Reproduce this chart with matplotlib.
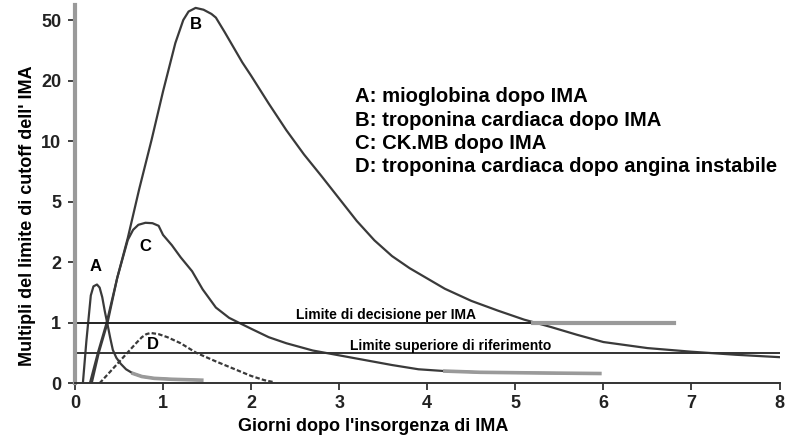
import numpy as np
import matplotlib
matplotlib.use("Agg")
import matplotlib.pyplot as plt

plt.rcParams['font.family'] = ['Liberation Sans', 'DejaVu Sans']

# y axis: equally spaced ticks 0,1,2,5,10,20,50
y_ticks = [0, 1, 2, 5, 10, 20, 50]
y_knots = [0, 1, 2, 5, 10, 20, 50, 100]
y_pos = np.arange(len(y_knots))

x_ticks = [0, 1, 2, 3, 4, 5, 6, 7, 8]

# A: mioglobina dopo IMA
a_day = [0.09, 0.11, 0.13, 0.15, 0.18, 0.21, 0.25, 0.28, 0.31, 0.34, 0.37, 0.40, 0.43, 0.47, 0.52, 0.58,
         0.66, 0.76, 0.9, 1.1, 1.44]
a_val = [0.0, 0.35, 0.7, 1.0, 1.45, 1.6, 1.63, 1.58, 1.42, 1.18, 0.97, 0.75, 0.55, 0.42, 0.32, 0.23,
         0.16, 0.11, 0.08, 0.065, 0.05]

# B: troponina cardiaca dopo IMA
b_day = [0.17, 0.26, 0.36, 0.48, 0.60, 0.73, 0.87, 1.0, 1.14, 1.23, 1.29, 1.37, 1.46, 1.55, 1.6, 1.7, 1.8,
         1.9, 2.0, 2.2, 2.4, 2.6, 2.8, 3.0, 3.2, 3.4, 3.6, 3.8, 4.0, 4.2, 4.5, 4.8, 5.1, 5.4, 5.7,
         6.0, 6.5, 7.0, 7.5, 8.0]
b_val = [0.0, 0.5, 1.0, 1.74, 3.2, 6.05, 10.2, 18.2, 38.6, 50.0, 57.0, 60.0, 58.5, 55.0, 52.0, 44.0, 36.5,
         29.0, 22.4, 16.2, 11.8, 8.9, 7.1, 5.25, 4.04, 3.08, 2.3, 1.9, 1.73, 1.56, 1.36, 1.2, 1.05, 0.93, 0.8,
         0.68, 0.58, 0.52, 0.47, 0.43]

# C: CK.MB dopo IMA
c_day = [0.19, 0.27, 0.37, 0.48, 0.60, 0.66, 0.72, 0.80, 0.88, 0.95, 1.0, 1.1, 1.2, 1.33, 1.45, 1.6, 1.75, 1.86,
         2.0, 2.2, 2.4, 2.7, 3.0, 3.3, 3.6, 3.9, 4.2, 4.6, 5.2, 5.96]
c_val = [0.0, 0.5, 1.0, 1.74, 3.1, 3.6, 3.85, 3.95, 3.93, 3.8, 3.35, 2.84, 2.24, 1.85, 1.55, 1.25, 1.08, 1.0,
         0.9, 0.76, 0.66, 0.54, 0.46, 0.38, 0.3, 0.23, 0.2, 0.18, 0.17, 0.16]

# D: troponina cardiaca dopo angina instabile
d_day = [0.28, 0.40, 0.50, 0.60, 0.70, 0.76, 0.81, 0.86, 0.95, 1.05, 1.2, 1.38, 1.6, 1.8, 2.0, 2.15, 2.25]
d_val = [0.0, 0.19, 0.35, 0.51, 0.67, 0.76, 0.81, 0.83, 0.81, 0.76, 0.66, 0.5, 0.36, 0.24, 0.12, 0.05, 0.02]

decision_limit = 1.0
reference_limit = 0.5


def fwd(v):
    return np.interp(v, y_knots, y_pos)


def inv(p):
    return np.interp(p, y_pos, y_knots)


fig = plt.figure(figsize=(7.89, 4.43), dpi=100)
ax = fig.add_axes([0.095, 0.135, 0.893, 0.854])
ax.set_yscale('function', functions=(fwd, inv))

col = '#3a3a3a'
ax.plot(a_day, a_val, color=col, lw=1.6)
ax.plot(b_day, b_val, color=col, lw=1.6)
ax.plot(c_day, c_val, color=col, lw=1.6)
ax.plot(d_day, d_val, color=col, lw=1.6, ls=(0, (2, 1)))
# faded tails as in the scanned figure
ax.plot(a_day[-5:], a_val[-5:], color='#9a9a9a', lw=2.6)
ax.plot(c_day[-4:], c_val[-4:], color='#9a9a9a', lw=2.6)

# limit lines
ax.plot([0, 5.2], [decision_limit, decision_limit], color='#222222', lw=1.4)
ax.plot([5.2, 6.8], [decision_limit, decision_limit], color='#9a9a9a', lw=3)
ax.plot([0, 8], [reference_limit, reference_limit], color='#333333', lw=1.4)

small = dict(fontsize=10, fontweight='bold', ha='center', va='baseline')
ax.text(3.53, 1.06, 'Limite di decisione per IMA', **small)
ax.text(4.26, 0.545, 'Limite superiore di riferimento', **small)

# curve letters
lab_kw = dict(fontsize=12, fontweight='bold', ha='center', va='center')
ax.text(0.23, 1.93, 'A', **lab_kw)
ax.text(1.37, 48, 'B', **lab_kw)
ax.text(0.80, 2.75, 'C', **lab_kw)
ax.text(0.89, 0.64, 'D', **lab_kw)

legend_lines = ['A: mioglobina dopo IMA',
                'B: troponina cardiaca dopo IMA',
                'C: CK.MB dopo IMA',
                'D: troponina cardiaca dopo angina instabile']
for i, t in enumerate(legend_lines):
    fig.text(355 / 789, 1 - (97 + 23.3 * i) / 443, t, fontsize=14.6, fontweight='bold',
             va='center', ha='left')

ax.set_xlim(0, 8)
ax.set_ylim(0, inv(6.25))
ax.set_yticks(y_ticks)
ax.set_yticklabels([str(t) for t in y_ticks])
ax.set_xticks(x_ticks)
ax.minorticks_off()
ax.tick_params(axis='both', labelsize=13, length=5, width=1.2, colors='#222222')
ax.tick_params(axis='y', pad=5)
for lab in ax.get_xticklabels() + ax.get_yticklabels():
    lab.set_fontweight('bold')

ax.spines['top'].set_visible(False)
ax.spines['right'].set_visible(False)
ax.spines['left'].set_color('#9a9a9a')
ax.spines['left'].set_linewidth(3)
ax.spines['bottom'].set_color('#333333')
ax.spines['bottom'].set_linewidth(1.4)

ax.set_xlabel("Giorni dopo l'insorgenza di IMA", fontsize=13, fontweight='bold')
ax.set_ylabel("Multipli del limite di cutoff dell' IMA", fontsize=13, fontweight='bold')
ax.xaxis.set_label_coords(0.423, -0.093)
ax.yaxis.set_label_coords(-0.055, 0.444)

fig.savefig('out.png', dpi=100)
